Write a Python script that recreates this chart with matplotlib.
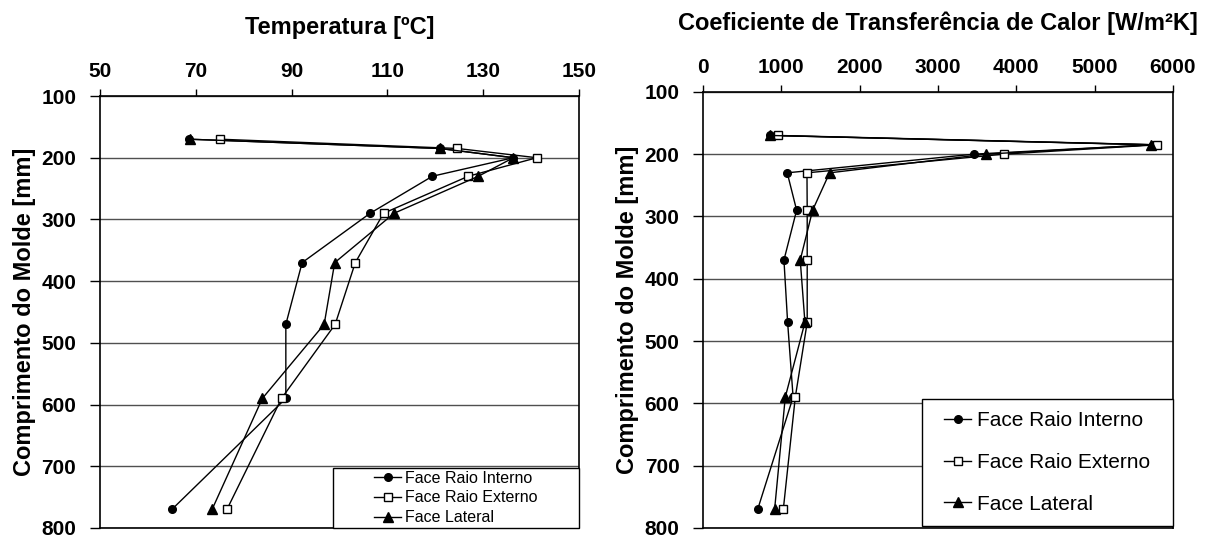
import matplotlib
matplotlib.use('Agg')
import matplotlib.pyplot as plt
from matplotlib.patches import Rectangle

plt.rcParams.update({
    "font.family": ["Liberation Sans", "DejaVu Sans"],
    "font.size": 15,
})

# comprimento do molde [mm]
pos_mm = [170, 185, 200, 230, 290, 370, 470, 590, 770]

# temperatura [C]
temp_interno = [68.6, 121.0, 136.3, 119.4, 106.4, 92.2, 88.8, 88.8, 65.0]
temp_externo = [75.1, 124.6, 141.2, 126.9, 109.2, 103.3, 99.1, 87.9, 76.5]
temp_lateral = [68.7, 120.9, 136.3, 129.0, 111.4, 99.0, 96.8, 83.9, 73.4]

# coeficiente de transferencia de calor [W/m2K]
htc_interno = [855, 5744, 3461, 1075, 1195, 1033, 1080, 1150, 698]
htc_externo = [957, 5800, 3844, 1327, 1330, 1330, 1330, 1178, 1025]
htc_lateral = [855, 5723, 3614, 1616, 1399, 1241, 1301, 1050, 914]

temp_ticks = [50, 70, 90, 110, 130, 150]
htc_ticks = [0, 1000, 2000, 3000, 4000, 5000, 6000]
y_ticks = [100, 200, 300, 400, 500, 600, 700, 800]

labels = ["Face Raio Interno", "Face Raio Externo", "Face Lateral"]
styles = [
    dict(marker="o", mfc="black", mec="black", ms=5.5),
    dict(marker="s", mfc="white", mec="black", ms=6, mew=1),
    dict(marker="^", mfc="black", mec="black", ms=6.5),
]


def style_axis(ax, xticks, xlabel):
    ax.set_xlim(xticks[0], xticks[-1])
    ax.set_ylim(800, 100)
    ax.set_xticks(xticks)
    ax.set_yticks(y_ticks)
    ax.xaxis.tick_top()
    ax.xaxis.set_label_position("top")
    ax.tick_params(axis="x", direction="out", length=5, width=1, pad=6, labelsize=15)
    ax.tick_params(axis="y", direction="out", length=7, width=1, pad=10, labelsize=15)
    for lab in ax.get_xticklabels() + ax.get_yticklabels():
        lab.set_fontweight("bold")
    ax.set_xlabel(xlabel, fontsize=17, fontweight="bold", labelpad=20)
    ax.set_ylabel("Comprimento do Molde [mm]", fontsize=17, fontweight="bold",
                  labelpad=4)
    ax.grid(axis="y", color="#505050", lw=1)
    ax.set_axisbelow(True)
    for s in ax.spines.values():
        s.set_linewidth(1.2)


def boxed_legend(ax, box, **kw):
    # Excel-style legend: fixed box, entries centred inside it
    x0, y0, w, h = box
    ax.add_patch(Rectangle((x0, y0), w, h, transform=ax.transAxes, facecolor="white",
                           edgecolor="black", lw=1, zorder=4.5, clip_on=False))
    leg = ax.legend(loc="center", bbox_to_anchor=box, borderaxespad=0, frameon=False,
                    **kw)
    leg.set_zorder(5)
    return leg


fig = plt.figure(figsize=(12.09, 5.37), dpi=100)
ax_l = fig.add_axes([0.0827, 0.0168, 0.3962, 0.8044])
ax_r = fig.add_axes([0.5815, 0.0168, 0.3887, 0.8122])

for vals, lab, st in zip([temp_interno, temp_externo, temp_lateral], labels, styles):
    ax_l.plot(vals, pos_mm, color="black", lw=1, label=lab, **st)
for vals, lab, st in zip([htc_interno, htc_externo, htc_lateral], labels, styles):
    ax_r.plot(vals, pos_mm, color="black", lw=1, label=lab, **st)

style_axis(ax_l, temp_ticks, "Temperatura [ºC]")
style_axis(ax_r, htc_ticks, "Coeficiente de Transferência de Calor [W/m²K]")

boxed_legend(ax_l, (0.4864, 0.0, 0.5136, 0.139), fontsize=11.5,
             handlelength=1.7, handletextpad=0.25, labelspacing=0.3, borderpad=0.1)
boxed_legend(ax_r, (0.465, 0.005, 0.535, 0.291), fontsize=15,
             handlelength=1.3, handletextpad=0.3, labelspacing=1.1, borderpad=0.1)

fig.savefig("out.png", dpi=100)
